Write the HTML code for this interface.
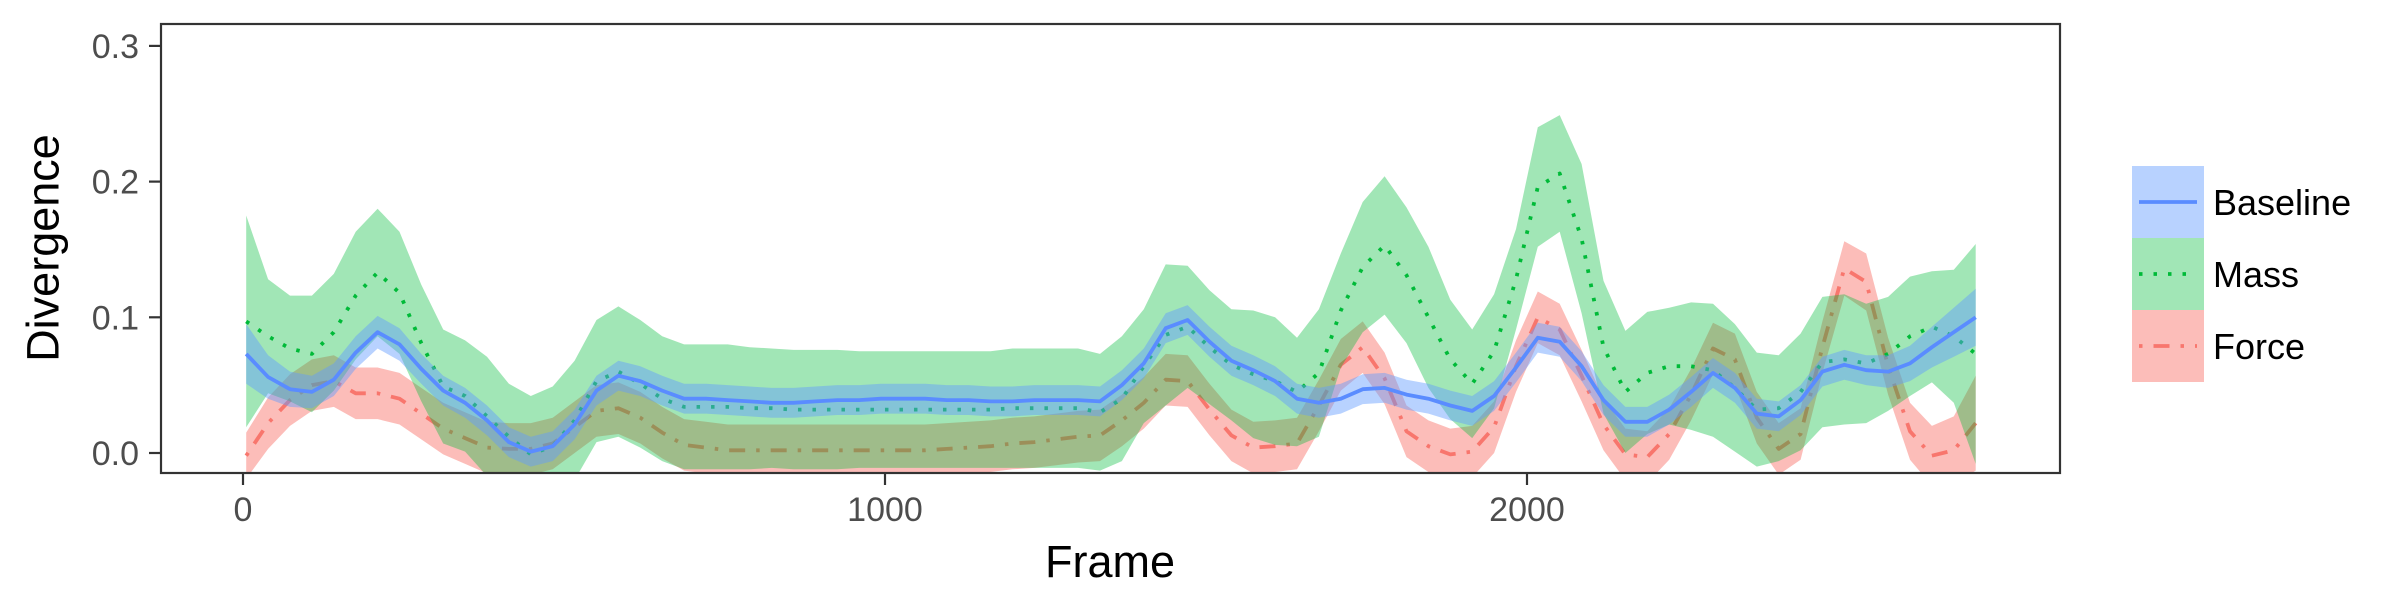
<!DOCTYPE html>
<html><head><meta charset="utf-8"><style>
html,body{margin:0;padding:0;background:#fff;}
svg{display:block;font-family:"Liberation Sans",Arial,sans-serif;}
</style></head><body>
<svg id="chart" width="2400" height="600" viewBox="0 0 2400 600">
<defs><clipPath id="pc"><rect x="161" y="24" width="1899" height="449"/></clipPath></defs>
<g id="plotarea" clip-path="url(#pc)"></g>
<rect x="161" y="24" width="1899" height="449" fill="none" stroke="#333" stroke-width="2.2"/>
<g id="axes"></g>
<text x="43" y="248" transform="rotate(-90 43 248)" text-anchor="middle" dominant-baseline="central" font-size="45" fill="#000">Divergence</text>
<text x="1110" y="577" text-anchor="middle" font-size="45" fill="#000">Frame</text>
<g id="legend"></g>
</svg>
<script>
const frameStart = 5;
const frameStep = 34.1;
const baselineMean = [.073,.056,.047,.045,.054,.074,.089,.080,.062,.046,.037,.024,.008,.001,.005,.021,.046,.057,.053,.046,.040,
.040,.039,.038,.037,.037,.038,.039,.039,.040,.040,.040,.039,.039,.038,.038,.039,.039,.039,.038,.050,
.066,.092,.098,.082,.068,.061,.053,.040,.037,.040,.047,.048,.043,.040,.035,.031,.042,.063,.085,
.082,.064,.039,.023,.023,.032,.045,.059,.048,.029,.027,.039,.060,.065,.061,.060,.066,.078,.089,.100];
const baselineHalf = [.022,.016,.013,.012,.012,.012,.012,.012,.011,.011,.011,.011,.011,.011,.011,.011,.011,.011,.011,.011,.011,
.011,.011,.011,.011,.011,.011,.011,.011,.011,.011,.011,.011,.011,.011,.011,.011,.011,.011,.011,.011,
.011,.011,.011,.011,.011,.011,.011,.011,.011,.011,.011,.011,.011,.011,.011,.011,.011,.011,.011,
.011,.011,.011,.011,.011,.011,.011,.011,.011,.011,.011,.011,.011,.011,.011,.012,.013,.015,.018,.021];
const massMean = [.097,.086,.077,.073,.089,.116,.133,.118,.081,.049,.042,.027,.012,-.001,.005,.024,.053,.060,.051,.040,.034,
.034,.034,.033,.033,.032,.032,.032,.032,.032,.032,.032,.032,.032,.032,.033,.033,.033,.033,.030,.040,
.064,.087,.093,.078,.065,.058,.053,.045,.059,.105,.137,.153,.131,.100,.069,.051,.075,.128,.196,
.206,.158,.078,.045,.059,.064,.064,.061,.048,.032,.033,.045,.067,.069,.066,.073,.086,.093,.086,.073];
const massHalf = [.078,.042,.039,.043,.043,.047,.047,.045,.043,.042,.041,.044,.039,.043,.044,.044,.045,.048,.047,.046,.046,
.046,.046,.045,.044,.044,.044,.044,.043,.043,.043,.043,.043,.043,.043,.044,.044,.044,.044,.043,.046,
.042,.052,.045,.042,.041,.047,.047,.040,.047,.042,.048,.051,.050,.052,.044,.040,.042,.037,.044,
.043,.055,.049,.045,.045,.043,.047,.049,.047,.042,.039,.043,.048,.048,.044,.042,.044,.041,.049,.081];
const forceMean = [-.002,.022,.039,.050,.053,.044,.044,.040,.029,.018,.011,.004,.003,.003,.007,.019,.031,.033,.026,.015,.006,
.004,.002,.002,.002,.002,.002,.002,.002,.002,.002,.002,.003,.004,.005,.007,.008,.010,.012,.013,.024,
.037,.054,.053,.032,.013,.004,.005,.007,.035,.065,.078,.055,.016,.005,-.001,.001,.019,.064,.100,
.091,.057,.021,-.001,-.003,.014,.043,.077,.069,.026,.003,.014,.078,.136,.126,.064,.016,-.002,.002,.022];
const forceHalf = [.017,.019,.019,.019,.019,.019,.019,.019,.019,.019,.019,.019,.019,.019,.019,.019,.019,.019,.019,.019,.019,
.019,.019,.019,.019,.019,.019,.019,.019,.019,.019,.019,.019,.019,.019,.019,.019,.019,.019,.019,.019,
.019,.019,.019,.019,.019,.019,.019,.019,.019,.019,.019,.019,.019,.019,.019,.019,.019,.019,.019,
.019,.019,.019,.019,.019,.019,.019,.019,.019,.019,.019,.019,.019,.020,.021,.021,.021,.022,.025,.035];
const xTicks = [0, 1000, 2000];
const xTickLabels = ["0", "1000", "2000"];
const yTicks = [0, 0.1, 0.2, 0.3];
const yTickLabels = ["0.0", "0.1", "0.2", "0.3"];
const seriesNames = ["Baseline", "Mass", "Force"];

const NS = "http://www.w3.org/2000/svg";
function xs(f){ return 243 + f * 0.642; }
function ys(v){ return 453 - v * 1357; }
function mk(tag, attrs, parent){ const e = document.createElementNS(NS, tag); for (const k in attrs) e.setAttribute(k, attrs[k]); parent.appendChild(e); return e; }

const styles = [
  {mean: baselineMean, half: baselineHalf, fill: "#619CFF", fo: 0.45, stroke: "#5a8cff", dash: "none", key: "baseline"},
  {mean: massMean, half: massHalf, fill: "#00BA38", fo: 0.37, stroke: "#00BA38", dash: "3.5 11", key: "mass"},
  {mean: forceMean, half: forceHalf, fill: "#F8766D", fo: 0.48, stroke: "#F8766D", dash: "3.5 11 16 11", key: "force"}
];
const plot = document.getElementById("plotarea");
[2, 1, 0].forEach(idx => {
  const s = styles[idx];
  const up = [], lo = [], ln = [];
  s.mean.forEach((m, i) => {
    const x = xs(frameStart + i * frameStep).toFixed(1);
    up.push(x + "," + ys(m + s.half[i]).toFixed(1));
    lo.unshift(x + "," + ys(m - s.half[i]).toFixed(1));
    ln.push(x + "," + ys(m).toFixed(1));
  });
  const p = mk("polygon", {points: up.concat(lo).join(" "), fill: s.fill, "fill-opacity": s.fo}, plot);
  
  
  const l = mk("polyline", {points: ln.join(" "), fill: "none", stroke: s.stroke, "stroke-width": 3.8, "stroke-dasharray": s.dash, "stroke-linejoin": "round"}, plot);
  
  
});

const axes = document.getElementById("axes");
yTicks.forEach((v, i) => {
  const t = mk("line", {x1: 149, x2: 161, y1: ys(v), y2: ys(v), stroke: "#333", "stroke-width": 2.2}, axes);
  
  
  const tx = mk("text", {x: 139, y: ys(v) + 12, "text-anchor": "end", "font-size": 34, fill: "#4d4d4d"}, axes);
  tx.textContent = yTickLabels[i];
  
  
});
xTicks.forEach((f, i) => {
  const t = mk("line", {x1: xs(f), x2: xs(f), y1: 473, y2: 485, stroke: "#333", "stroke-width": 2.2}, axes);
  
  
  const tx = mk("text", {x: xs(f), y: 521, "text-anchor": "middle", "font-size": 34, fill: "#4d4d4d"}, axes);
  tx.textContent = xTickLabels[i];
  
  
});

const legend = document.getElementById("legend");
styles.forEach((s, i) => {
  const y0 = 166 + i * 72;
  const g = mk("g", {}, legend);
  
  
  mk("rect", {x: 2132, y: y0, width: 72, height: 72, fill: "#fff"}, g);
  const r = mk("rect", {x: 2132, y: y0, width: 72, height: 72, fill: s.fill, "fill-opacity": s.fo}, g);
  
  
  const l = mk("line", {x1: 2139, x2: 2197, y1: y0 + 36, y2: y0 + 36, stroke: s.stroke, "stroke-width": 3.8, "stroke-dasharray": s.dash}, g);
  
  
  const t = mk("text", {x: 2213, y: y0 + 49, "font-size": 36, fill: "#000"}, g);
  t.textContent = seriesNames[i];
  
  
});
</script>
</body></html>
